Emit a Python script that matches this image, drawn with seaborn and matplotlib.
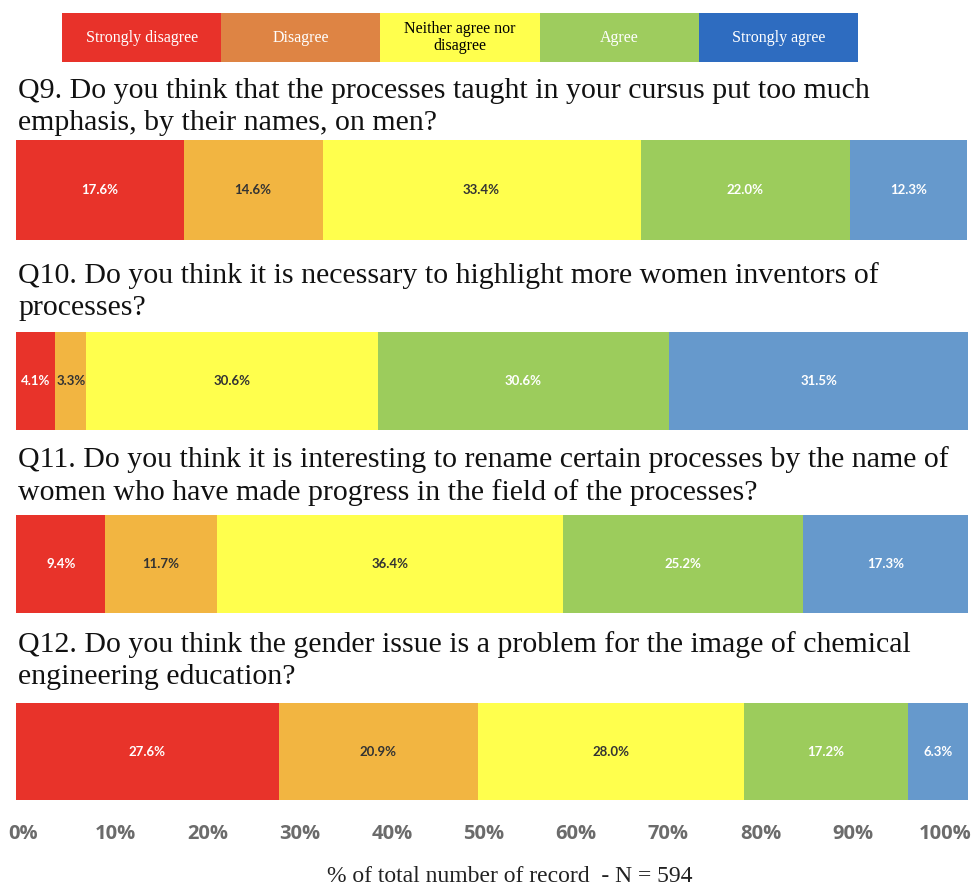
import numpy as np
import matplotlib
matplotlib.use("Agg")
import matplotlib.pyplot as plt
import seaborn as sns

# answer categories and their colours
categories = ["Strongly disagree", "Disagree", "Neither agree nor\ndisagree", "Agree", "Strongly agree"]
bar_colors = ["#E8332A", "#F2B541", "#FFFF4D", "#9CCC5C", "#6699CC"]
legend_colors = ["#E8322A", "#DE8444", "#FFFF4D", "#9ECC5E", "#2E6CC0"]
legend_text_colors = ["white", "white", "black", "white", "white"]
label_text_colors = ["white", "#333333", "#333333", "white", "white"]

questions = [
    "Q9. Do you think that the processes taught in your cursus put too much\nemphasis, by their names, on men?",
    "Q10. Do you think it is necessary to highlight more women inventors of\nprocesses?",
    "Q11. Do you think it is interesting to rename certain processes by the name of\nwomen who have made progress in the field of the processes?",
    "Q12. Do you think the gender issue is a problem for the image of chemical\nengineering education?",
]
q9 = [17.6, 14.6, 33.4, 22.0, 12.3]
q10 = [4.1, 3.3, 30.6, 30.6, 31.5]
q11 = [9.4, 11.7, 36.4, 25.2, 17.3]
q12 = [27.6, 20.9, 28.0, 17.2, 6.3]
answers = [q9, q10, q11, q12]

ticks = list(range(0, 101, 10))
tick_labels = [f"{t}%" for t in ticks]
xlabel = "% of total number of record  - N = 594"

sns.set_theme(style="white")
plt.rcParams["font.family"] = ["Liberation Serif", "DejaVu Serif"]

W, H = 975, 886
fig = plt.figure(figsize=(W / 100, H / 100), dpi=100)


def fx(px):
    return px / W


def fy(px):
    return 1 - px / H


# legend strip at the top
ax_leg = fig.add_axes([fx(62), fy(62), fx(858 - 62), (62 - 13) / H])
for i, (cat, col) in enumerate(zip(categories, legend_colors)):
    ax_leg.barh(0, 1, left=i, height=1, color=col, edgecolor="none")
    ax_leg.text(i + 0.5, 0, cat, ha="center", va="center", fontsize=11.5,
                color=legend_text_colors[i], linespacing=1.1)
ax_leg.set_xlim(0, len(categories))
ax_leg.set_ylim(-0.5, 0.5)
ax_leg.axis("off")

# bars: (top, bottom) in pixels, and title top
bar_boxes = [(140, 240), (332, 430), (515, 613), (703, 800)]
title_tops = [78, 262, 446, 631]

for q, (vals, (top, bot), ttop) in enumerate(zip(answers, bar_boxes, title_tops)):
    ax = fig.add_axes([fx(16), fy(bot), fx(968 - 16), (bot - top) / H])
    cum = np.cumsum(vals)
    for k in reversed(range(len(vals))):
        sns.barplot(x=[cum[k]], y=[0], orient="h", color=bar_colors[k],
                    width=1.0, saturation=1, errorbar=None, linewidth=0, ax=ax)
    for k, v in enumerate(vals):
        ax.text(cum[k] - v / 2, 0, f"{v:.1f}%", ha="center", va="center",
                fontsize=9.5, fontweight="bold", family="Lato",
                color=label_text_colors[k])
    ax.set_xlim(0, 100)
    ax.set_ylim(0.5, -0.5)
    ax.axis("off")
    fig.text(fx(18), fy(ttop), questions[q], ha="left", va="top",
             fontsize=21.5, color="#111111", linespacing=1.3)

# percentage scale under the bars
ax_t = fig.add_axes([fx(23), fy(805), fx(945 - 23), 0.001])
ax_t.set_xlim(0, 100)
ax_t.set_xticks(ticks)
ax_t.set_xticklabels(tick_labels, fontsize=14.5, fontweight="bold",
                     family="Open Sans", color="#6b6b6b")
ax_t.set_yticks([])
ax_t.tick_params(axis="x", length=0, pad=14)
for s in ax_t.spines.values():
    s.set_visible(False)

fig.text(fx(510), fy(876), xlabel, ha="center", va="center", fontsize=17,
         color="#222222")

fig.savefig("out.png", dpi=100, facecolor="white")
